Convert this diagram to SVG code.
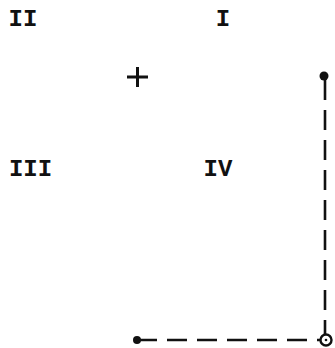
<svg xmlns="http://www.w3.org/2000/svg" width="335" height="348" viewBox="0 0 335 348">
<style>
.lbl{font-family:"Liberation Mono","Courier New",monospace;font-weight:bold;font-size:24px;fill:#111;text-anchor:middle}
.dash{stroke:#111;stroke-width:2.6;fill:none;stroke-dasharray:20 10}
</style>
<rect width="335" height="348" fill="#fff"/>
<g id="label-II"><text class="lbl" x="23" y="26">II</text></g>
<g id="label-I"><text class="lbl" x="223" y="26">I</text></g>
<g id="label-III"><text class="lbl" x="30.5" y="176">III</text></g>
<g id="label-IV"><text class="lbl" x="218" y="176">IV</text></g>
<g id="cross"><path d="M127 77H148M137.5 67V87" stroke="#111" stroke-width="3" fill="none"/></g>
<g id="connectors">
<path class="dash" d="M325 80V335"/>
<path class="dash" d="M137 340H320"/>
<circle cx="324" cy="76" r="4.5" fill="#111"/>
<circle cx="137" cy="340" r="4" fill="#111"/>
<circle cx="326" cy="340" r="5.5" fill="#fff" stroke="#111" stroke-width="2.4"/>
<circle cx="326" cy="340" r="1.3" fill="#111"/>
</g>
</svg>
